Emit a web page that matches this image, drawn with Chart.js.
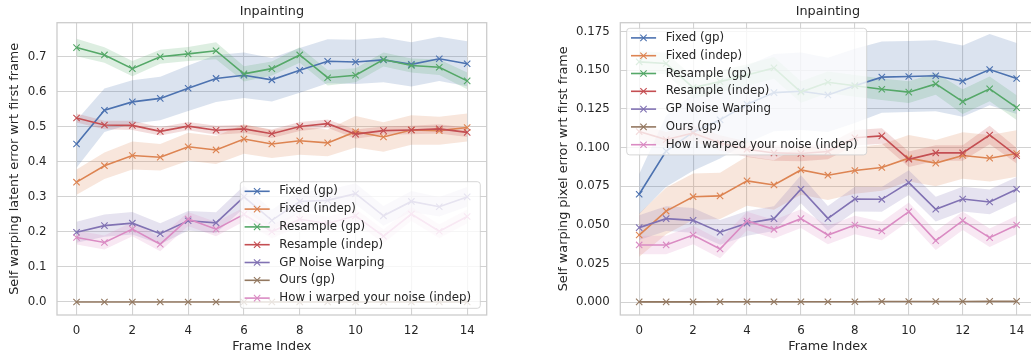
<!DOCTYPE html>
<html>
<head>
<meta charset="utf-8">
<script src="https://cdn.jsdelivr.net/npm/chart.js@4/dist/chart.umd.min.js"></script>
<style>
  html, body { margin: 0; padding: 0; background: #fff; width: 1031px; height: 355px; overflow: hidden; }
  canvas { position: absolute; top: 0; }
  #latentChart { left: 0; }
  #pixelChart { left: 505px; }
</style>
</head>
<body>
<canvas id="latentChart" width="505" height="355" style="width:505px;height:355px"></canvas>
<canvas id="pixelChart" width="540" height="355" style="width:540px;height:355px"></canvas>
<script>
const frames = [0, 1, 2, 3, 4, 5, 6, 7, 8, 9, 10, 11, 12, 13, 14];
const xTicks = [0, 2, 4, 6, 8, 10, 12, 14];
const latentYTicks = [0, 0.1, 0.2, 0.3, 0.4, 0.5, 0.6, 0.7];
const pixelYTicks = [0, 0.025, 0.05, 0.075, 0.1, 0.125, 0.15, 0.175];
const seriesNames = ["Fixed (gp)", "Fixed (indep)", "Resample (gp)", "Resample (indep)",
                     "GP Noise Warping", "Ours (gp)", "How i warped your noise (indep)"];
const seriesColors = ["#4c72b0", "#dd8452", "#55a868", "#c44e52", "#8172b3", "#937860", "#da8bc3"];

// left panel: latent error, mean and band half-width
const latentFixedGp      = [0.451, 0.547, 0.571, 0.581, 0.610, 0.638, 0.647, 0.634, 0.661, 0.687, 0.685, 0.691, 0.678, 0.694, 0.680];
const latentFixedIndep   = [0.342, 0.389, 0.418, 0.413, 0.443, 0.434, 0.465, 0.451, 0.460, 0.454, 0.486, 0.471, 0.491, 0.489, 0.498];
const latentResampleGp   = [0.726, 0.705, 0.666, 0.700, 0.708, 0.717, 0.651, 0.666, 0.705, 0.640, 0.647, 0.692, 0.675, 0.670, 0.631];
const latentResampleInd  = [0.525, 0.505, 0.504, 0.487, 0.502, 0.490, 0.494, 0.480, 0.501, 0.509, 0.479, 0.489, 0.491, 0.494, 0.484];
const latentGpWarp       = [0.199, 0.218, 0.225, 0.195, 0.232, 0.226, 0.300, 0.233, 0.287, 0.290, 0.309, 0.246, 0.287, 0.272, 0.300];
const latentOurs         = [0, 0, 0, 0, 0, 0, 0, 0, 0, 0, 0, 0, 0, 0, 0];
const latentHiwyn        = [0.184, 0.170, 0.208, 0.165, 0.237, 0.208, 0.250, 0.201, 0.236, 0.224, 0.246, 0.188, 0.251, 0.202, 0.244];

const latentFixedGpBand     = [0.068, 0.062, 0.062, 0.062, 0.065, 0.067, 0.065, 0.062, 0.064, 0.063, 0.063, 0.064, 0.063, 0.063, 0.064];
const latentFixedIndepBand  = [0.036, 0.038, 0.040, 0.038, 0.040, 0.040, 0.042, 0.040, 0.040, 0.038, 0.045, 0.042, 0.042, 0.040, 0.040];
const latentResampleGpBand  = [0.025, 0.022, 0.022, 0.020, 0.020, 0.024, 0.022, 0.020, 0.022, 0.022, 0.020, 0.020, 0.020, 0.022, 0.024];
const latentResampleIndBand = [0.013, 0.012, 0.013, 0.012, 0.012, 0.013, 0.012, 0.012, 0.013, 0.012, 0.013, 0.012, 0.012, 0.013, 0.013];
const latentGpWarpBand      = [0.030, 0.032, 0.032, 0.030, 0.028, 0.030, 0.032, 0.030, 0.030, 0.030, 0.030, 0.028, 0.030, 0.028, 0.028];
const latentOursBand        = [0, 0, 0, 0, 0, 0, 0, 0, 0, 0, 0, 0, 0, 0, 0];
const latentHiwynBand       = [0.020, 0.020, 0.020, 0.020, 0.020, 0.020, 0.020, 0.020, 0.020, 0.020, 0.020, 0.020, 0.020, 0.020, 0.020];

// right panel: pixel error, mean and band half-width
const pixelFixedGp      = [0.0699, 0.0978, 0.1100, 0.1180, 0.1280, 0.1356, 0.1365, 0.1341, 0.1400, 0.1456, 0.1460, 0.1465, 0.1430, 0.1505, 0.1447];
const pixelFixedIndep   = [0.0435, 0.0590, 0.0683, 0.0688, 0.0785, 0.0759, 0.0856, 0.0822, 0.0852, 0.0872, 0.0932, 0.0900, 0.0949, 0.0932, 0.0962];
const pixelResampleGp   = [0.1555, 0.1544, 0.1388, 0.1427, 0.1470, 0.1516, 0.1360, 0.1423, 0.1400, 0.1378, 0.1359, 0.1412, 0.1298, 0.1380, 0.1259];
const pixelResampleInd  = [0.1104, 0.1052, 0.1095, 0.1030, 0.0990, 0.0966, 0.0962, 0.0975, 0.1064, 0.1076, 0.0925, 0.0966, 0.0966, 0.1082, 0.0948];
const pixelGpWarp       = [0.0483, 0.0541, 0.0530, 0.0453, 0.0511, 0.0541, 0.0731, 0.0543, 0.0668, 0.0666, 0.0774, 0.0602, 0.0668, 0.0649, 0.0731];
const pixelOurs         = [0.0003, 0.0003, 0.0003, 0.0004, 0.0004, 0.0004, 0.0004, 0.0004, 0.0004, 0.0005, 0.0005, 0.0005, 0.0005, 0.0006, 0.0006];
const pixelHiwyn        = [0.0371, 0.0371, 0.0435, 0.0345, 0.0526, 0.0472, 0.0541, 0.0435, 0.0500, 0.0461, 0.0586, 0.0399, 0.0528, 0.0418, 0.0500];

const pixelFixedGpBand     = [0.013, 0.023, 0.025, 0.025, 0.025, 0.025, 0.025, 0.024, 0.024, 0.023, 0.023, 0.023, 0.023, 0.023, 0.023];
const pixelFixedIndepBand  = [0.014, 0.015, 0.015, 0.015, 0.016, 0.016, 0.016, 0.016, 0.015, 0.015, 0.015, 0.015, 0.015, 0.015, 0.015];
const pixelResampleGpBand  = [0.007, 0.007, 0.007, 0.007, 0.007, 0.007, 0.007, 0.007, 0.007, 0.007, 0.007, 0.007, 0.008, 0.008, 0.008];
const pixelResampleIndBand = [0.005, 0.005, 0.005, 0.005, 0.005, 0.005, 0.005, 0.005, 0.005, 0.005, 0.005, 0.005, 0.005, 0.006, 0.005];
const pixelGpWarpBand      = [0.008, 0.008, 0.008, 0.008, 0.008, 0.008, 0.009, 0.008, 0.008, 0.008, 0.008, 0.008, 0.008, 0.008, 0.008];
const pixelOursBand        = [0.0002, 0.0002, 0.0002, 0.0002, 0.0002, 0.0002, 0.0002, 0.0002, 0.0002, 0.0002, 0.0002, 0.0002, 0.0002, 0.0002, 0.0002];
const pixelHiwynBand       = [0.006, 0.006, 0.006, 0.006, 0.006, 0.006, 0.006, 0.006, 0.006, 0.006, 0.006, 0.006, 0.006, 0.006, 0.006];

const FONT = "'DejaVu Sans', sans-serif";
const TEXT = "#262626";
const GRID = "#d2d2d2";

function rgba(hex, a) {
  const n = parseInt(hex.slice(1), 16);
  return `rgba(${(n >> 16) & 255},${(n >> 8) & 255},${n & 255},${a})`;
}

function buildDatasets(means, bands) {
  const ds = [];
  // bands first (upper, then lower filled to the upper)
  means.forEach((m, k) => {
    const c = seriesColors[k];
    ds.push({ data: frames.map((f, i) => ({ x: f, y: m[i] + bands[k][i] })),
      borderWidth: 0, borderColor: "transparent", pointRadius: 0, fill: false, order: 30 - k });
    ds.push({ data: frames.map((f, i) => ({ x: f, y: m[i] - bands[k][i] })),
      borderWidth: 0, borderColor: "transparent", pointRadius: 0, fill: "-1",
      backgroundColor: rgba(c, 0.2), order: 30 - k });
  });
  means.forEach((m, k) => {
    const c = seriesColors[k];
    ds.push({ label: seriesNames[k], data: frames.map((f, i) => ({ x: f, y: m[i] })),
      borderColor: c, borderWidth: 1.6, pointStyle: "crossRot", pointRadius: 4.5,
      pointBorderWidth: 1.1, pointBorderColor: c, pointBackgroundColor: c,
      fill: false, tension: 0, order: 10 - k });
  });
  return ds;
}

// light gray frame round the plot area
const framePlugin = {
  id: "frame",
  afterDatasetsDraw(chart) {
    const a = chart.chartArea, ctx = chart.ctx;
    ctx.save();
    ctx.strokeStyle = "#cccccc";
    ctx.lineWidth = 1.3;
    ctx.strokeRect(a.left, a.top, a.right - a.left, a.bottom - a.top);
    ctx.restore();
  }
};

function drawCross(ctx, x, y, r) {
  const d = r * Math.SQRT1_2;
  ctx.beginPath();
  ctx.moveTo(x - d, y - d); ctx.lineTo(x + d, y + d);
  ctx.moveTo(x - d, y + d); ctx.lineTo(x + d, y - d);
  ctx.stroke();
}

// matplotlib style legend box drawn inside the axes
const boxLegend = {
  id: "boxLegend",
  afterDraw(chart, args, opts) {
    const ctx = chart.ctx;
    const x = opts.left, y = opts.top, w = 240, h = 126.6, r = 3;
    ctx.save();
    ctx.beginPath();
    ctx.roundRect(x, y, w, h, r);
    ctx.fillStyle = "rgba(255,255,255,0.8)";
    ctx.fill();
    ctx.strokeStyle = "rgba(204,204,204,0.8)";
    ctx.lineWidth = 1;
    ctx.stroke();
    ctx.font = "11.8px " + FONT;
    ctx.textBaseline = "middle";
    ctx.textAlign = "left";
    seriesNames.forEach((name, k) => {
      const ry = y + 9.6 + k * 17.8;
      ctx.strokeStyle = seriesColors[k];
      ctx.lineWidth = 1.6;
      ctx.beginPath();
      ctx.moveTo(x + 4.3, ry); ctx.lineTo(x + 29.4, ry);
      ctx.stroke();
      ctx.lineWidth = 1.1;
      drawCross(ctx, x + 16.8, ry, 4.5);
      ctx.fillStyle = TEXT;
      ctx.fillText(name, x + 39, ry);
    });
    ctx.restore();
  }
};

function makeChart(id, means, bands, yTicks, yMin, yMax, decimals, yTitle, yTitlePad, axisWidth, padRight, legendPos) {
  return new Chart(document.getElementById(id), {
    type: "line",
    data: { datasets: buildDatasets(means, bands) },
    plugins: [framePlugin, boxLegend],
    options: {
      responsive: false,
      animation: false,
      events: [],
      layout: { padding: { left: 0, right: padRight, top: 0, bottom: 0 } },
      plugins: {
        legend: { display: false },
        tooltip: { enabled: false },
        title: {
          display: true, text: "Inpainting", fullSize: false, color: TEXT,
          font: { family: FONT, size: 12.8, weight: "normal" },
          padding: { top: 3.9, bottom: 3.44 }
        },
        boxLegend: legendPos
      },
      scales: {
        x: {
          type: "linear", min: -0.7, max: 14.7,
          afterBuildTicks: s => { s.ticks = xTicks.map(v => ({ value: v })); },
          afterFit: s => { s.height = 40; },
          ticks: { color: TEXT, font: { family: FONT, size: 11.8 }, padding: 8.7,
                   autoSkip: false, maxRotation: 0, callback: v => String(v) },
          grid: { color: GRID, lineWidth: 1.1, drawTicks: false },
          border: { display: false },
          title: { display: true, text: "Frame Index", color: TEXT,
                   font: { family: FONT, size: 12.8 }, padding: { top: 0, bottom: 0.4 } }
        },
        y: {
          min: yMin, max: yMax,
          afterBuildTicks: s => { s.ticks = yTicks.map(v => ({ value: v })); },
          afterFit: s => { s.width = axisWidth; },
          ticks: { color: TEXT, font: { family: FONT, size: 11.8 }, padding: 10.5,
                   callback: v => v.toFixed(decimals) },
          grid: { color: GRID, lineWidth: 1.1, drawTicks: false },
          border: { display: false },
          title: { display: true, text: yTitle, color: TEXT,
                   font: { family: FONT, size: 12.8 }, padding: { top: yTitlePad, bottom: 0 } }
        }
      }
    }
  });
}

makeChart("latentChart",
  [latentFixedGp, latentFixedIndep, latentResampleGp, latentResampleInd, latentGpWarp, latentOurs, latentHiwyn],
  [latentFixedGpBand, latentFixedIndepBand, latentResampleGpBand, latentResampleIndBand, latentGpWarpBand, latentOursBand, latentHiwynBand],
  latentYTicks, -0.037, 0.797, 1, "Self warping latent error wrt first frame", 6.8, 57, 18.3,
  { left: 240.3, top: 181.7 });

makeChart("pixelChart",
  [pixelFixedGp, pixelFixedIndep, pixelResampleGp, pixelResampleInd, pixelGpWarp, pixelOurs, pixelHiwyn],
  [pixelFixedGpBand, pixelFixedIndepBand, pixelResampleGpBand, pixelResampleIndBand, pixelGpWarpBand, pixelOursBand, pixelHiwynBand],
  pixelYTicks, -0.0082, 0.1808, 3, "Self warping pixel error wrt first frame", 51.1, 115.3, 9.5,
  { left: 121.7, top: 28.3 });
</script>
</body>
</html>
